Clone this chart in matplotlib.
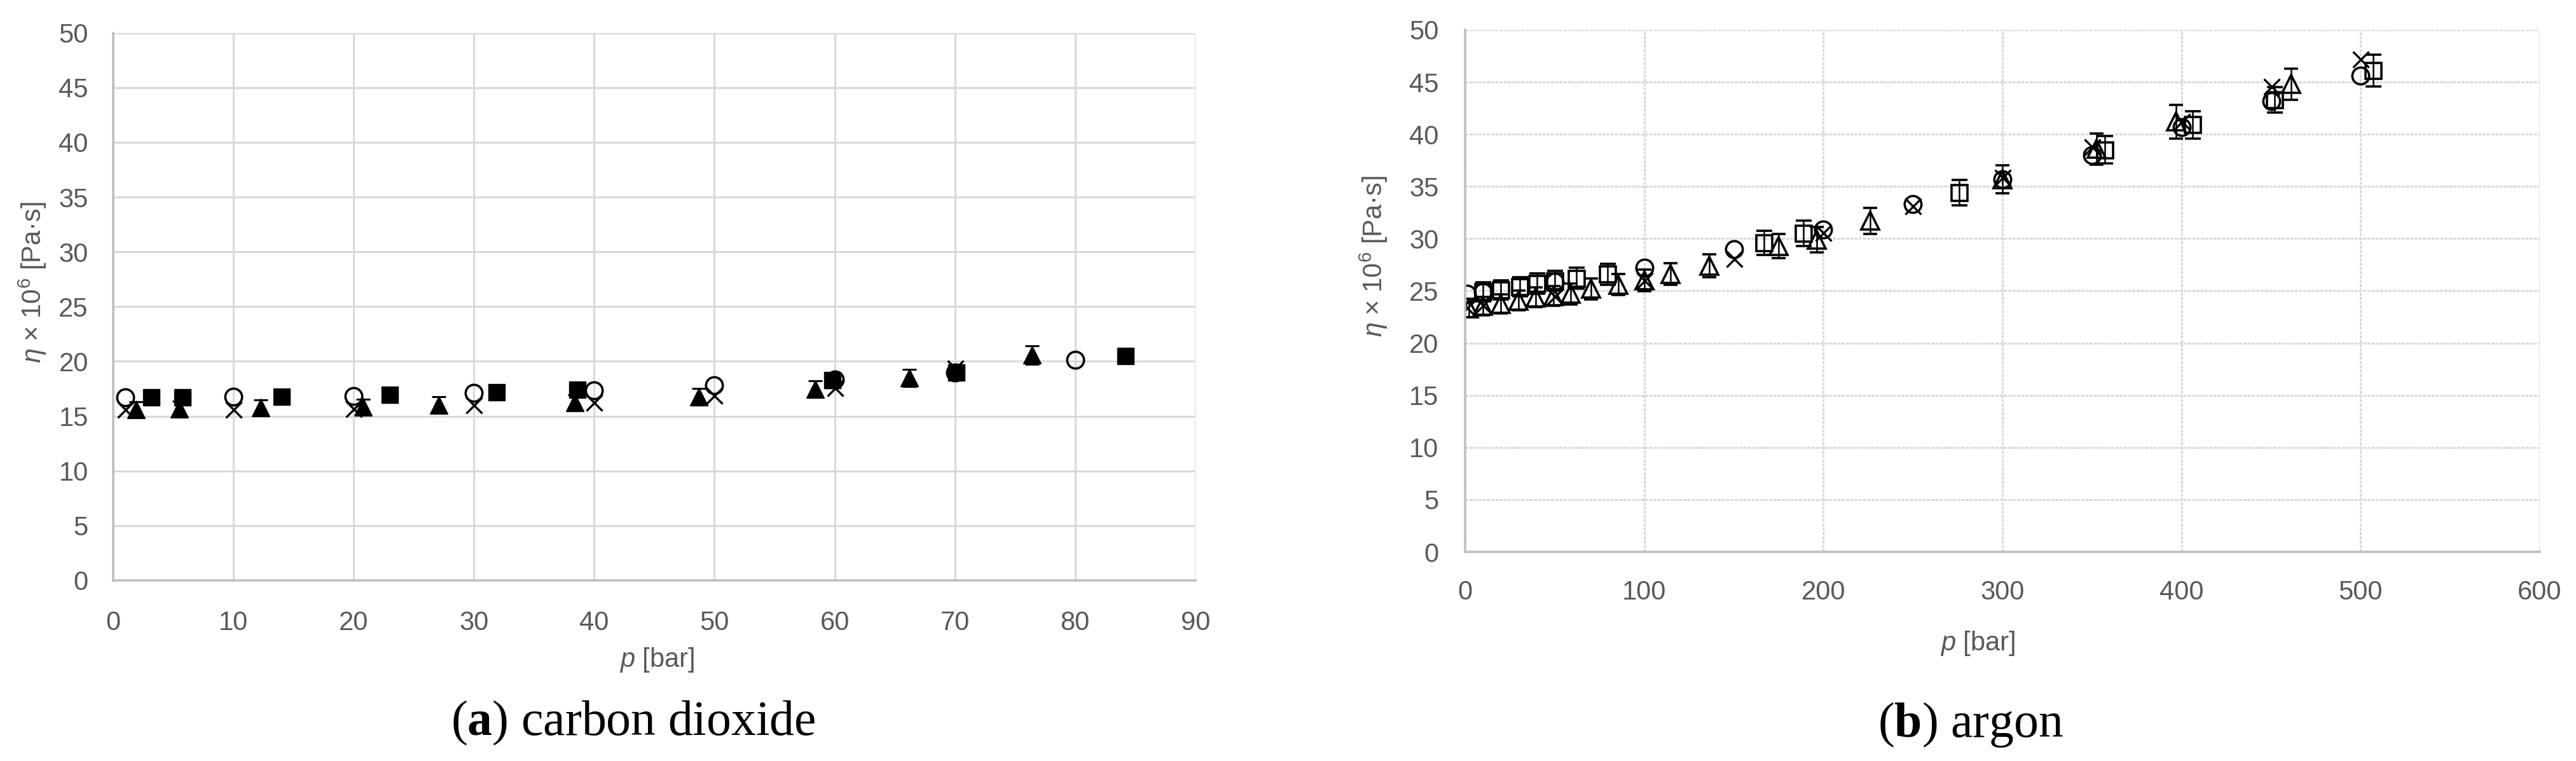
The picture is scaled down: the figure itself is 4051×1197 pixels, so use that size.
import matplotlib
matplotlib.use("Agg")
import matplotlib.pyplot as plt

# ── (a) carbon dioxide ────────────────────────────────────────────────────────
co2_circle_p = [1, 10, 20, 30, 40, 50, 60, 70, 80]
co2_circle_eta = [16.7, 16.8, 16.85, 17.1, 17.35, 17.85, 18.35, 19.0, 20.15]
co2_cross_p = [1, 10, 20, 30, 40, 50, 60, 70]
co2_cross_eta = [15.6, 15.6, 15.7, 16.0, 16.25, 16.9, 17.6, 19.4]
co2_tri_p = [1.9, 5.5, 12.3, 20.8, 27.1, 38.4, 48.7, 58.4, 66.2, 76.4]
co2_tri_eta = [15.6, 15.65, 15.8, 15.85, 16.05, 16.25, 16.8, 17.5, 18.5, 20.6]
co2_tri_err = [0.7, 0.7, 0.7, 0.7, 0.7, 0.7, 0.75, 0.75, 0.8, 0.85]
co2_sq_p = [3.2, 5.8, 14.0, 23.0, 31.9, 38.6, 59.8, 70.1, 84.2]
co2_sq_eta = [16.7, 16.7, 16.8, 16.95, 17.2, 17.4, 18.3, 19.0, 20.5]

# ── (b) argon ─────────────────────────────────────────────────────────────────
ar_circle_p = [1, 10, 50, 100, 150, 200, 250, 300, 350, 400, 450, 500]
ar_circle_eta = [24.75, 24.9, 25.9, 27.2, 29.0, 30.9, 33.3, 35.7, 38.0, 40.7, 43.2, 45.6]
ar_cross_p = [1, 10, 50, 100, 150, 200, 250, 300, 350, 400, 450, 500]
ar_cross_eta = [23.4, 23.6, 24.5, 26.0, 28.1, 30.6, 33.1, 35.9, 38.8, 41.2, 44.6, 47.2]
ar_tri_p = [2, 9.8, 19.9, 29.9, 39.4, 49.5, 58.9, 70.2, 85.6, 100, 114.6, 136.4,
            175, 196.4, 226, 300, 352.4, 397, 461.2]
ar_tri_eta = [23.35, 23.55, 23.75, 24.07, 24.37, 24.5, 24.7, 25.2, 25.6, 26.0, 26.6,
              27.4, 29.3, 29.9, 31.7, 35.7, 38.6, 41.2, 44.8]
ar_tri_err = [0.9, 0.9, 0.9, 0.95, 0.95, 0.95, 1.0, 1.0, 1.0, 1.05, 1.05, 1.1,
              1.15, 1.2, 1.25, 1.35, 1.5, 1.6, 1.5]
ar_sq_p = [10, 20, 30.5, 40, 50, 62, 79.6, 167, 189, 276, 357, 406, 452, 507]
ar_sq_eta = [24.9, 25.1, 25.4, 25.7, 25.95, 26.2, 26.6, 29.6, 30.5, 34.4, 38.5,
             40.9, 43.3, 46.1]
ar_sq_err = [0.9, 0.9, 0.9, 0.95, 0.95, 1.0, 1.0, 1.15, 1.2, 1.2, 1.3, 1.3, 1.2, 1.5]

co2_xticks = list(range(0, 91, 10))
ar_xticks = list(range(0, 601, 100))
yticks = list(range(0, 51, 5))

TICK_FONT = ["Liberation Sans Narrow", "Liberation Sans", "DejaVu Sans"]
GRAY_TEXT = "#595959"
GRID = "#d9d9d9"
SPINE = "#bfbfbf"

plt.rcParams["font.family"] = TICK_FONT
plt.rcParams["mathtext.fontset"] = "custom"
plt.rcParams["mathtext.rm"] = "Liberation Sans"
plt.rcParams["mathtext.it"] = "Liberation Sans:italic"
plt.rcParams["mathtext.bf"] = "Liberation Serif:bold"

W, H = 4051, 1197
fig = plt.figure(figsize=(W / 100, H / 100), dpi=100)


def px_axes(x0, x1, y_top, y_bot):
    return fig.add_axes([x0 / W, 1 - y_bot / H, (x1 - x0) / W, (y_bot - y_top) / H])


def style_axes(ax, xticks, xmax, grid_ls, xpad, ypad):
    ax.set_xlim(0, xmax)
    ax.set_ylim(0, 50)
    ax.set_xticks(xticks)
    ax.set_yticks(yticks)
    ax.set_axisbelow(True)
    ax.grid(True, color=GRID, linewidth=2.2, linestyle=grid_ls)
    for side in ("top", "right"):
        ax.spines[side].set_visible(False)
    for side in ("left", "bottom"):
        ax.spines[side].set_color(SPINE)
        ax.spines[side].set_linewidth(2.6)
    ax.tick_params(axis="both", length=0, labelsize=30, labelcolor=GRAY_TEXT)
    ax.tick_params(axis="x", pad=xpad)
    ax.tick_params(axis="y", pad=ypad)


# ── panel (a) ────────────────────────────────────────────────────────────────
ax1 = px_axes(177.7, 1880, 51.7, 913)
style_axes(ax1, co2_xticks, 90, "-", 34, 28)

ax1.plot(co2_circle_p, co2_circle_eta, "o", ms=19, mfc="none", mec="black",
         mew=2.6, linestyle="none")
ax1.plot(co2_cross_p, co2_cross_eta, "x", ms=18, mec="black", mew=2.4,
         linestyle="none")
ax1.errorbar(co2_tri_p, co2_tri_eta, yerr=co2_tri_err, fmt="^", ms=20,
             mfc="black", mec="black", ecolor="black", elinewidth=1.6,
             capsize=8, capthick=2.2)
ax1.plot(co2_sq_p, co2_sq_eta, "s", ms=19, mfc="black", mec="black",
         linestyle="none")

# ── panel (b) ────────────────────────────────────────────────────────────────
ax2 = px_axes(2304, 3994, 47, 868)
style_axes(ax2, ar_xticks, 600, (0, (1.6, 0.6)), 32, 30)

ax2.plot(ar_circle_p, ar_circle_eta, "o", ms=19, mfc="none", mec="black",
         mew=2.6, linestyle="none")
ax2.plot(ar_cross_p, ar_cross_eta, "x", ms=18, mec="black", mew=2.4,
         linestyle="none")
ax2.errorbar(ar_tri_p, ar_tri_eta, yerr=ar_tri_err, fmt="^", ms=20,
             mfc="none", mec="black", mew=2.6, ecolor="black",
             elinewidth=1.8, capsize=8, capthick=2.4)
ax2.errorbar(ar_sq_p, ar_sq_eta, yerr=ar_sq_err, fmt="s", ms=18,
             mfc="none", mec="black", mew=2.6, ecolor="black",
             elinewidth=1.8, capsize=9, capthick=2.4)

# ── axis titles and captions ─────────────────────────────────────────────────
xlab = r"$p$ [bar]"
ylab = r"$\eta$ × 10$^{6}$ [Pa·s]"
fig.text(1033 / W, 1 - 1038 / H, xlab, ha="center", va="center",
         fontsize=30, color=GRAY_TEXT)
fig.text(3110 / W, 1 - 1012 / H, xlab, ha="center", va="center",
         fontsize=30, color=GRAY_TEXT)
fig.text(51 / W, 1 - 444 / H, ylab, ha="center", va="center", rotation=90,
         fontsize=30, color=GRAY_TEXT, family=["Liberation Sans", "DejaVu Sans"])
fig.text(2160 / W, 1 - 403 / H, ylab, ha="center", va="center", rotation=90,
         fontsize=30, color=GRAY_TEXT, family=["Liberation Sans", "DejaVu Sans"])

fig.text(996 / W, 1 - 1137 / H, r"($\mathbf{a}$) carbon dioxide", ha="center",
         va="center", fontsize=56, color="black",
         family=["Liberation Serif", "DejaVu Serif"])
fig.text(3099 / W, 1 - 1140 / H, r"($\mathbf{b}$) argon", ha="center",
         va="center", fontsize=56, color="black",
         family=["Liberation Serif", "DejaVu Serif"])

fig.savefig("out.png", dpi=100)
